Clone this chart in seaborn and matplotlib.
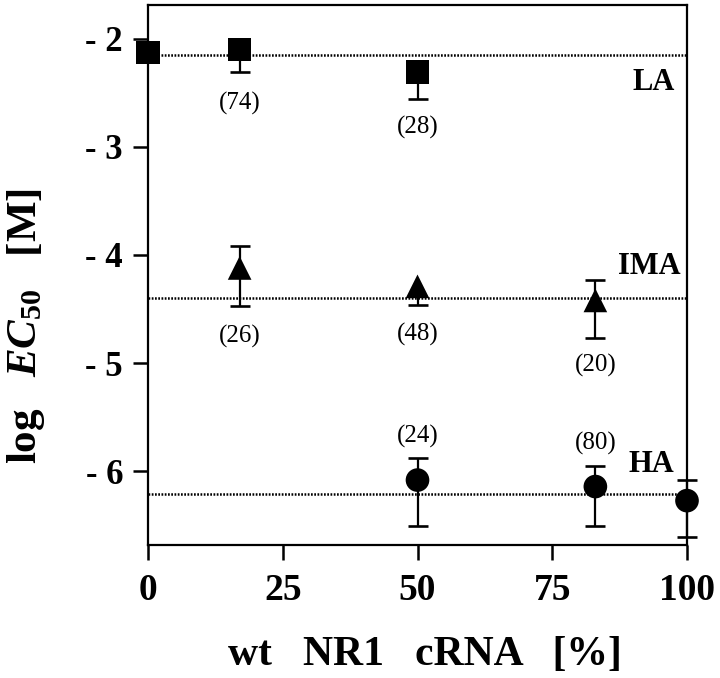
import numpy as np
import pandas as pd
import seaborn as sns
import matplotlib
matplotlib.use("Agg")
import matplotlib.pyplot as plt

sns.set_style("ticks")
plt.rcParams['font.family'] = ['Liberation Serif', 'DejaVu Serif']
plt.rcParams['mathtext.fontset'] = 'custom'
plt.rcParams['mathtext.rm'] = 'Liberation Serif:bold'
plt.rcParams['mathtext.it'] = 'Liberation Serif:italic:bold'
plt.rcParams['mathtext.bf'] = 'Liberation Serif:bold'
for key in ['text.color', 'axes.labelcolor', 'xtick.color', 'ytick.color', 'axes.edgecolor']:
    plt.rcParams[key] = 'black'

nan = np.nan

# ---------- Data ----------
# lo / hi = ends of the error bars; nan where the bar is hidden by the marker
groups = ["LA", "IMA", "HA"]

la_x = [0, 17, 50]
la_y = [-2.13, -2.10, -2.31]
la_lo = [nan, -2.31, -2.56]
la_hi = [nan, nan, nan]

ima_x = [17, 50, 83]
ima_y = [-4.12, -4.29, -4.42]
ima_lo = [-4.47, -4.46, -4.77]
ima_hi = [-3.92, nan, -4.23]

ha_x = [50, 83, 100]
ha_y = [-6.08, -6.14, -6.27]
ha_lo = [-6.50, -6.50, -6.61]
ha_hi = [-5.88, -5.95, -6.08]

ref_levels = [-2.15, -4.40, -6.21]   # dotted mean lines LA, IMA, HA

n_text = ["(74)", "(28)", "(26)", "(48)", "(20)", "(24)", "(80)"]
n_x = [17, 50, 17, 50, 83, 50, 83]
n_y = [-2.60, -2.82, -4.75, -4.73, -5.02, -5.68, -5.74]

group_label_x = [93.8, 93.0, 93.4]
group_label_y = [-2.41, -4.11, -5.94]

x_ticks = [0, 25, 50, 75, 100]
y_ticks = [-2, -3, -4, -5, -6]

# ---------- Long table ----------
df = pd.concat([
    pd.DataFrame({"x": la_x, "y": la_y, "lo": la_lo, "hi": la_hi, "group": "LA"}),
    pd.DataFrame({"x": ima_x, "y": ima_y, "lo": ima_lo, "hi": ima_hi, "group": "IMA"}),
    pd.DataFrame({"x": ha_x, "y": ha_y, "lo": ha_lo, "hi": ha_hi, "group": "HA"}),
], ignore_index=True)

# ---------- Figure ----------
fig = plt.figure(figsize=(7.2, 6.78), dpi=100)
ax = fig.add_axes([148 / 720, 1 - 545 / 678, (687 - 148) / 720, (545 - 5) / 678])

for lvl in ref_levels:
    ax.axhline(lvl, color="black", linestyle=(0, (0.7, 0.6)), linewidth=1.8, zorder=1)

# error bars: stems + caps, drawn below the markers
for end in ["lo", "hi"]:
    d = df.dropna(subset=[end])
    ax.vlines(d["x"], d["y"], d[end], color="black", linewidth=1.6, zorder=2, clip_on=False)
    ax.plot(d["x"], d[end], linestyle="none", marker="_", markersize=15,
            markeredgewidth=1.9, color="black", zorder=2, clip_on=False)

sns.scatterplot(data=df, x="x", y="y", style="group", color="black",
                markers={"LA": "s", "IMA": "^", "HA": "o"},
                s=290, linewidth=0, legend=False, ax=ax, zorder=3, clip_on=False)

for t, x, y in zip(n_text, n_x, n_y):
    ax.text(x, y, t, ha="center", va="center", fontsize=18)

for t, x, y in zip(groups, group_label_x, group_label_y):
    ax.text(x, y, t, ha="center", va="center", fontsize=22, fontweight="bold")

ax.set_xlim(0, 100)
ax.set_ylim(-6.68, -1.69)
ax.set_xticks(x_ticks)
ax.set_xticklabels([str(v) for v in x_ticks], fontsize=27, fontweight="bold")
ax.set_yticks(y_ticks)
ax.set_yticklabels(["- " + str(abs(v)) for v in y_ticks], fontsize=25, fontweight="bold")
ax.tick_params(axis="x", length=11, width=1.8, pad=9, direction="out")
ax.tick_params(axis="y", length=11, width=1.8, pad=7, direction="out")

for s in ax.spines.values():
    s.set_linewidth(1.6)
    s.set_visible(True)

ax.set_xlabel("wt   NR1   cRNA   [%]", fontsize=30, fontweight="bold", va="top")
ax.xaxis.set_label_coords(0.514, -0.168)
ax.set_ylabel(r"log   $\mathit{EC}_{\mathrm{50}}$   [M]", fontsize=31, fontweight="bold")
ax.yaxis.set_label_coords(-0.188, 0.405)

fig.savefig("out.png", dpi=100)
